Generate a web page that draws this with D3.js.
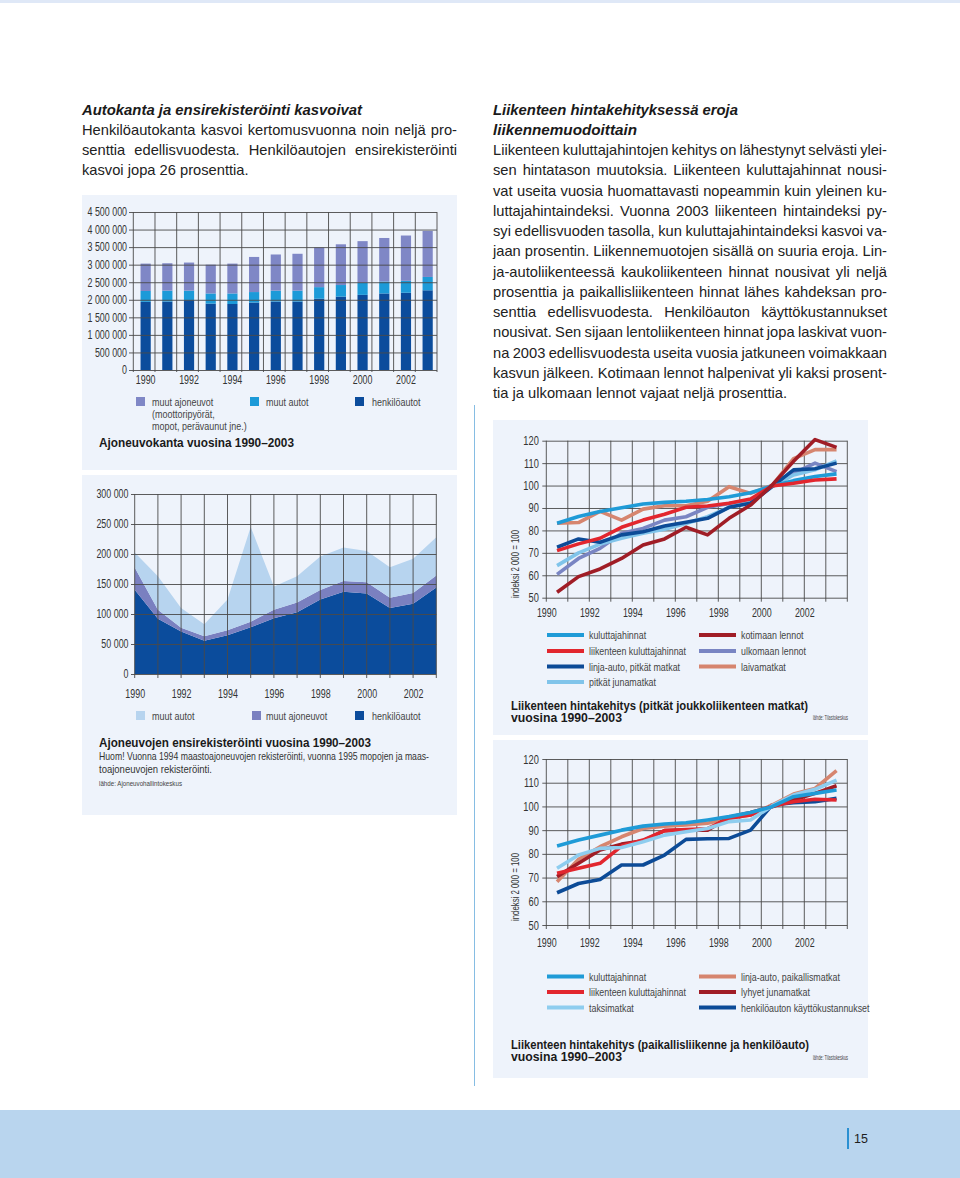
<!DOCTYPE html>
<html><head><meta charset="utf-8">
<script src="https://cdnjs.cloudflare.com/ajax/libs/d3/7.8.5/d3.min.js"></script>
<style>
html,body{margin:0;padding:0;background:#fff;}
svg{display:block;}
text{font-family:"Liberation Sans",Arial,Helvetica,sans-serif;}
</style></head><body>
<svg id="page" width="960" height="1178" xmlns="http://www.w3.org/2000/svg"></svg>
<script>
// ---------------- DATA ----------------
const years = [1990,1991,1992,1993,1994,1995,1996,1997,1998,1999,2000,2001,2002,2003];
const evenYears = [1990,1992,1994,1996,1998,2000,2002];
const yearEdges = [1990,1991,1992,1993,1994,1995,1996,1997,1998,1999,2000,2001,2002,2003,2004];

// Ajoneuvokanta (vehicle stock)
const stockCars          = [1940000,1950000,1990000,1890000,1880000,1920000,1950000,1950000,2030000,2090000,2140000,2180000,2200000,2270000];
const stockOtherCars     = [310000,310000,270000,290000,300000,300000,310000,310000,330000,330000,340000,340000,340000,380000];
const stockOtherVehicles = [780000,780000,800000,820000,850000,1000000,1030000,1050000,1130000,1160000,1190000,1240000,1290000,1310000];
const stockTicks = [0,500000,1000000,1500000,2000000,2500000,3000000,3500000,4000000,4500000];

// Ensirekisteröinti (first registrations)
const regCars          = [140500,92000,71000,55500,64500,78000,93000,103000,124000,137000,134000,110000,117000,144000];
const regOtherVehicles = [37000,15000,6000,7500,8500,9000,14000,16000,16000,18000,19000,17000,18000,20000];
const regOtherCars     = [25000,56000,33000,20000,51000,158000,39000,44000,56000,56000,52000,51000,57000,64000];
const regTicks = [0,50000,100000,150000,200000,250000,300000];

// Hintakehitys, pitkät joukkoliikenteen matkat (index 2000 = 100)
const cpi1            = [83.2,86.2,88.4,90.1,91.8,92.5,93.0,93.8,95.0,96.8,99.8,102.2,104.0,105.2];
const transportCpi1   = [71.0,74.0,76.5,81.4,84.6,87.2,90.3,90.9,92.1,94.0,99.8,101.0,102.5,103.0];
const busLong         = [72.5,76.2,74.7,78.0,79.4,82.0,83.6,85.4,90.3,92.1,99.5,107.0,107.5,110.0];
const trainLong       = [64.3,70.0,73.9,76.5,78.7,80.5,83.1,86.1,90.3,92.8,99.5,104.7,107.0,111.0];
const domesticFlights = [52.4,59.4,62.8,67.5,73.5,76.2,81.4,78.0,85.4,91.3,100.2,110.8,120.5,117.0];
const foreignFlights  = [60.4,67.5,72.0,78.7,80.9,84.6,86.1,90.3,92.0,93.5,100.0,105.4,110.0,106.2];
const shipTrips       = [83.2,83.5,88.5,84.6,89.5,91.0,91.0,93.0,99.5,96.5,100.0,112.0,116.0,116.0];

// Hintakehitys, paikallisliikenne ja henkilöauto
const cpi2          = [83.3,85.8,87.9,90.0,91.7,92.6,93.1,94.3,95.7,97.4,99.9,104.1,105.5,106.9];
const transportCpi2 = [71.8,73.9,76.0,83.3,85.8,89.8,90.3,90.6,95.0,96.4,100.2,102.0,103.0,102.7];
const taxi          = [73.9,79.5,82.3,82.7,85.1,87.9,89.3,90.7,93.6,94.3,100.2,104.8,107.2,111.1];
const busLocal      = [68.2,77.7,83.0,87.2,90.7,91.7,92.2,92.9,95.0,96.4,100.6,105.2,107.6,115.1];
const trainShort    = [70.4,76.0,81.6,84.1,85.5,89.8,90.0,90.0,95.4,97.4,99.9,102.7,105.5,108.7];
const carCosts      = [63.6,67.5,69.2,75.3,75.3,79.5,86.1,86.4,86.5,90.0,100.6,101.6,102.0,103.4];
const indexTicks = [50,60,70,80,90,100,110,120];

// ---------------- HELPERS ----------------
const svg = d3.select('#page');
const fmt = d3.formatLocale({decimal:',', thousands:' ', grouping:[3], currency:['','']}).format(',');
const GRID = '#4a4a4a', TXT = '#333333';

function anchorFix(el, nw) {
  const anchor = getComputedStyle(el).getPropertyValue('text-anchor');
  let x = +(el.getAttribute('x') || 0);
  if (anchor === 'middle') x -= nw / 2; else if (anchor === 'end') x -= nw;
  el.setAttribute('x', x);
  el.setAttribute('text-anchor', 'start');
  el.style.textAnchor = 'start';
  el.setAttribute('textLength', nw);
  el.setAttribute('lengthAdjust', 'spacingAndGlyphs');
}
function fit(sel, w) { sel.each(function(){ anchorFix(this, w); }); return sel; }
function condense() {
  d3.selectAll('text.cond').each(function(){
    const k = +(this.getAttribute('data-k') || 0.76);
    const w = this.getComputedTextLength();
    if (w > 0) anchorFix(this, w * k);
  });
}
function panel(x, y, w, h) {
  svg.append('rect').attr('x', x).attr('y', y).attr('width', w).attr('height', h).attr('fill', '#eef3fb');
}
function para(lines, x0, x1, y0, lh, fs, lastW, forcedK) {
  const g = svg.append('g').attr('font-size', fs).attr('fill', '#222');
  const m = g.append('text').attr('x', -500).attr('y', -500);
  const mw = s => { m.text(s); return m.node().getComputedTextLength(); };
  const sp = mw('a a') - mw('aa');
  const lastWords = lines[lines.length - 1].split(' ');
  const k = forcedK || lastW / (d3.sum(lastWords, mw) + sp * (lastWords.length - 1));
  lines.forEach((line, i) => {
    const words = line.split(' ');
    const ws = words.map(mw);
    const y = y0 + i * lh;
    let kk = k, gap = sp * k;
    if (i < lines.length - 1) {
      const target = x1 - x0;
      gap = (target - d3.sum(ws) * k) / (words.length - 1);
      const minGap = sp * k * 0.75;
      if (gap < minGap) { gap = minGap; kk = (target - minGap * (words.length - 1)) / d3.sum(ws); }
    }
    let x = x0;
    words.forEach((w, j) => {
      g.append('text').attr('x', x).attr('y', y)
        .attr('textLength', ws[j] * kk).attr('lengthAdjust', 'spacingAndGlyphs').text(w);
      x += ws[j] * kk + gap;
    });
  });
  m.remove();
  return k;
}
function label(x, y, s, fs, opts = {}) {
  const t = svg.append('text').attr('x', x).attr('y', y).attr('dy', '0.35em')
    .attr('font-size', fs).attr('fill', opts.fill || TXT).text(s);
  if (opts.bold) t.attr('font-weight', 'bold');
  if (opts.italic) t.attr('font-style', 'italic');
  if (opts.w) fit(t, opts.w); else t.attr('class', 'cond').attr('data-k', opts.k || 0.78);
  return t;
}

// ---------------- PAGE ----------------
svg.append('rect').attr('x', 0).attr('y', 0).attr('width', 960).attr('height', 3).attr('fill', '#dfe8f7');
svg.append('rect').attr('x', 0).attr('y', 1110).attr('width', 960).attr('height', 68).attr('fill', '#b9d5ee');
svg.append('line').attr('x1', 848).attr('x2', 848).attr('y1', 1128).attr('y2', 1149).attr('stroke', '#2a90d2').attr('stroke-width', 2);
svg.append('text').attr('x', 854).attr('y', 1139).attr('dy', '0.35em').attr('font-size', 12.5).attr('fill', '#1e1e1e').text('15');
svg.append('line').attr('x1', 474.5).attr('x2', 474.5).attr('y1', 405).attr('y2', 1086).attr('stroke', '#86bde3').attr('stroke-width', 1);

// text columns
fit(svg.append('text').attr('x', 493).attr('y', 115).attr('font-size', 15).attr('font-weight', 'bold').attr('font-style', 'italic')
  .attr('fill', '#1a1a1a').text('Liikenteen hintakehityksessä eroja'), 245);
fit(svg.append('text').attr('x', 493).attr('y', 135).attr('font-size', 15).attr('font-weight', 'bold').attr('font-style', 'italic')
  .attr('fill', '#1a1a1a').text('liikennemuodoittain'), 144);
const bodyK = para(['Liikenteen kuluttajahintojen kehitys on lähestynyt selvästi ylei-',
      'sen hintatason muutoksia. Liikenteen kuluttajahinnat nousi-',
      'vat useita vuosia huomattavasti nopeammin kuin yleinen ku-',
      'luttajahintaindeksi. Vuonna 2003 liikenteen hintaindeksi py-',
      'syi edellisvuoden tasolla, kun kuluttajahintaindeksi kasvoi va-',
      'jaan prosentin. Liikennemuotojen sisällä on suuria eroja. Lin-',
      'ja-autoliikenteessä kaukoliikenteen hinnat nousivat yli neljä',
      'prosenttia ja paikallisliikenteen hinnat lähes kahdeksan pro-',
      'senttia edellisvuodesta. Henkilöauton käyttökustannukset',
      'nousivat. Sen sijaan lentoliikenteen hinnat jopa laskivat vuon-',
      'na 2003 edellisvuodesta useita vuosia jatkuneen voimakkaan',
      'kasvun jälkeen. Kotimaan lennot halpenivat yli kaksi prosent-',
      'tia ja ulkomaan lennot vajaat neljä prosenttia.'], 493, 887, 155, 20.25, 14.5, 294);

fit(svg.append('text').attr('x', 82).attr('y', 115).attr('font-size', 15).attr('font-weight', 'bold').attr('font-style', 'italic')
  .attr('fill', '#1a1a1a').text('Autokanta ja ensirekisteröinti kasvoivat'), 280);
para(['Henkilöautokanta kasvoi kertomusvuonna noin neljä pro-',
      'senttia edellisvuodesta. Henkilöautojen ensirekisteröinti',
      'kasvoi jopa 26 prosenttia.'], 82, 457, 135, 20, 14.5, 0, bodyK);

panel(82, 195, 375, 275);
panel(82, 475, 375, 340);
panel(493, 420, 375, 315);
panel(493, 740, 375, 338);

// ---------------- CHART 1: Ajoneuvokanta (stacked bars) ----------------
{
  const colors = {cars: '#0b4c9c', otherCars: '#1c9ad8', otherVeh: '#7f87c6'};
  const bx = d3.scaleBand().domain(years).range([133.3, 437]).paddingInner(0.53).paddingOuter(0.265);
  const by = d3.scaleLinear().domain([0, 4500000]).range([370, 212]);
  const rows = years.map((y, i) => ({year: y, cars: stockCars[i], otherCars: stockOtherCars[i], otherVeh: stockOtherVehicles[i]}));
  const series = d3.stack().keys(['cars', 'otherCars', 'otherVeh'])(rows);
  const g = svg.append('g');
  g.selectAll('g.layer').data(series).join('g').attr('fill', d => colors[d.key])
    .selectAll('rect').data(d => d).join('rect')
    .attr('x', d => bx(d.data.year) + 1.5).attr('width', bx.bandwidth())
    .attr('y', d => by(d[1])).attr('height', d => by(d[0]) - by(d[1]));
  const ya = g.append('g').attr('transform', 'translate(129,0)')
    .call(d3.axisLeft(by).tickValues(stockTicks).tickFormat(fmt).tickSize(-(437 - 129)).tickPadding(2));
  ya.select('.domain').remove();
  ya.selectAll('line').attr('stroke', GRID).attr('stroke-width', 0.9);
  ya.selectAll('text').attr('class', 'cond').attr('data-k', 0.74).attr('font-size', 12).attr('fill', TXT);
  const edges = years.map(y => bx(y) - bx.step() * bx.paddingInner() / 2).concat([437]);
  g.selectAll('line.vg').data(edges).join('line').attr('class', 'vg')
    .attr('x1', d => d).attr('x2', d => d).attr('y1', 212).attr('y2', 372)
    .attr('stroke', GRID).attr('stroke-width', 0.9);
  const xa = g.append('g').attr('transform', 'translate(1.5,370)')
    .call(d3.axisBottom(bx).tickValues(evenYears).tickSize(0));
  xa.select('.domain').remove();
  xa.selectAll('text').attr('class', 'cond').attr('data-k', 0.74).attr('font-size', 12).attr('fill', TXT).attr('y', 9.5).attr('dy', '0.35em');
  // legend
  svg.append('rect').attr('x', 136).attr('y', 397).attr('width', 9).attr('height', 9).attr('fill', colors.otherVeh);
  svg.append('rect').attr('x', 250).attr('y', 397).attr('width', 9).attr('height', 9).attr('fill', colors.otherCars);
  svg.append('rect').attr('x', 355).attr('y', 397).attr('width', 9).attr('height', 9).attr('fill', colors.cars);
  label(152, 401.5, 'muut ajoneuvot', 11.5, {fill: '#444'});
  label(152, 413.5, '(moottoripyörät,', 11.5, {fill: '#444'});
  label(152, 425.5, 'mopot, perävaunut jne.)', 11.5, {fill: '#444'});
  label(266, 401.5, 'muut autot', 11.5, {fill: '#444'});
  label(372, 401.5, 'henkilöautot', 11.5, {fill: '#444'});
  label(99, 442, 'Ajoneuvokanta vuosina 1990–2003', 13, {bold: true, fill: '#1a1a1a', w: 195});
}

// ---------------- CHART 2: Ensirekisteröinti (stacked areas) ----------------
{
  const colors = {cars: '#0b4c9c', otherVeh: '#7a80c0', otherCars: '#b7d4ef'};
  const ax = d3.scaleLinear().domain([1990, 2003]).range([134.7, 436.3]);
  const ay = d3.scaleLinear().domain([0, 300000]).range([674, 494]);
  const rows = years.map((y, i) => ({year: y, cars: regCars[i], otherVeh: regOtherVehicles[i], otherCars: regOtherCars[i]}));
  const series = d3.stack().keys(['cars', 'otherVeh', 'otherCars'])(rows);
  const area = d3.area().x(d => ax(d.data.year)).y0(d => ay(d[0])).y1(d => ay(d[1]));
  const g = svg.append('g');
  g.selectAll('path.ar').data(series).join('path').attr('class', 'ar')
    .attr('fill', d => colors[d.key]).attr('d', area);
  const ya = g.append('g').attr('transform', 'translate(131,0)')
    .call(d3.axisLeft(ay).tickValues(regTicks).tickFormat(fmt).tickSize(-(436.3 - 131)).tickPadding(2.5));
  ya.select('.domain').remove();
  ya.selectAll('line').attr('stroke', GRID).attr('stroke-width', 0.9);
  ya.selectAll('text').attr('class', 'cond').attr('data-k', 0.74).attr('font-size', 12).attr('fill', TXT);
  g.selectAll('line.vg').data(years).join('line').attr('class', 'vg')
    .attr('x1', d => ax(d)).attr('x2', d => ax(d)).attr('y1', 494).attr('y2', 678)
    .attr('stroke', GRID).attr('stroke-width', 0.9);
  const xa = g.append('g').attr('transform', 'translate(0,674)')
    .call(d3.axisBottom(ax).tickValues(evenYears).tickFormat(d3.format('d')).tickSize(0));
  xa.select('.domain').remove();
  xa.selectAll('text').attr('class', 'cond').attr('data-k', 0.74).attr('font-size', 12).attr('fill', TXT).attr('y', 20).attr('dy', '0.35em');
  svg.append('rect').attr('x', 136).attr('y', 711).attr('width', 9).attr('height', 9).attr('fill', colors.otherCars);
  svg.append('rect').attr('x', 252).attr('y', 711).attr('width', 9).attr('height', 9).attr('fill', colors.otherVeh);
  svg.append('rect').attr('x', 355).attr('y', 711).attr('width', 9).attr('height', 9).attr('fill', colors.cars);
  label(152, 715.5, 'muut autot', 11.5, {fill: '#444'});
  label(266, 715.5, 'muut ajoneuvot', 11.5, {fill: '#444'});
  label(372, 715.5, 'henkilöautot', 11.5, {fill: '#444'});
  label(99, 742, 'Ajoneuvojen ensirekisteröinti vuosina 1990–2003', 13, {bold: true, fill: '#1a1a1a', w: 272});
  label(99, 756.5, 'Huom! Vuonna 1994 maastoajoneuvojen rekisteröinti, vuonna 1995 mopojen ja maas-', 10.5, {fill: '#333', w: 330});
  label(99, 769, 'toajoneuvojen rekisteröinti.', 10.5, {fill: '#333', w: 113});
  label(99, 783, 'lähde: Ajoneuvohallintokeskus', 7.5, {fill: '#444', w: 83});
}

// ---------------- CHARTS 3 & 4: price index lines ----------------
function lineChart(o) {
  const x = d3.scaleLinear().domain([1990, 2004]).range([546.3, 847.3]);
  const y = d3.scaleLinear().domain([50, 120]).range([o.bottom, o.top]);
  const g = svg.append('g');
  const ya = g.append('g').attr('transform', 'translate(542.3,0)')
    .call(d3.axisLeft(y).tickValues(indexTicks).tickSize(-(847.3 - 542.3)).tickPadding(3.5));
  ya.select('.domain').remove();
  ya.selectAll('line').attr('stroke', GRID).attr('stroke-width', 0.9);
  ya.selectAll('text').attr('class', 'cond').attr('data-k', 0.74).attr('font-size', 12.5).attr('fill', TXT);
  g.selectAll('line.vg').data(yearEdges).join('line').attr('class', 'vg')
    .attr('x1', d => x(d)).attr('x2', d => x(d)).attr('y1', o.top).attr('y2', o.bottom + 4)
    .attr('stroke', GRID).attr('stroke-width', 0.9);
  const xa = g.append('g').attr('transform', `translate(0,${o.bottom})`)
    .call(d3.axisBottom(x).tickValues(evenYears).tickFormat(d3.format('d')).tickSize(0));
  xa.select('.domain').remove();
  xa.selectAll('text').attr('class', 'cond').attr('data-k', 0.74).attr('font-size', 12).attr('fill', TXT).attr('y', o.labelGap).attr('dy', '0.35em');
  const line = d3.line().x((d, i) => x(years[i] + 0.5)).y(d => y(d)).curve(d3.curveLinear);
  o.draw.forEach(s => {
    g.append('path').attr('d', line(s.values)).attr('fill', 'none').attr('stroke', s.color)
      .attr('stroke-width', 3.6).attr('stroke-linejoin', 'round').attr('stroke-linecap', 'butt');
  });
  // axis title
  const t = svg.append('text').attr('x', 515).attr('y', o.axisTitleY).attr('dy', '0.35em')
    .attr('font-size', 11).attr('fill', TXT).attr('text-anchor', 'middle')
    .attr('transform', `rotate(-90,515,${o.axisTitleY})`).text('indeksi 2 000 = 100');
  fit(t, 68);
  // legend
  o.legend.forEach(item => {
    const cx = item.col === 0 ? 547 : 699;
    svg.append('line').attr('x1', cx).attr('x2', cx + 37).attr('y1', item.y).attr('y2', item.y)
      .attr('stroke', item.color).attr('stroke-width', 4);
    label(cx + 42, item.y, item.name, 11.5, {fill: '#444', k: 0.77});
  });
  label(511, o.titleY, o.title, 12, {bold: true, fill: '#1a1a1a', w: o.titleW});
  label(511, o.titleY + 12, 'vuosina 1990–2003', 12, {bold: true, fill: '#1a1a1a', w: 111});
  label(813, o.titleY + 12, 'lähde: Tilastokeskus', 7.5, {fill: '#444', w: 35});
}

const C = {cpi: '#1f9bd7', trans: '#e2262e', navy: '#0c4b97', sky: '#80c4ea', wine: '#a01d26', lav: '#7985c3', salmon: '#d6856f', taxi: '#8ecdef'};

lineChart({
  top: 440.7, bottom: 597.7, labelGap: 15.5, axisTitleY: 564, titleY: 705.5, titleW: 297,
  title: 'Liikenteen hintakehitys (pitkät joukkoliikenteen matkat)',
  draw: [
    {values: shipTrips, color: C.salmon},
    {values: foreignFlights, color: C.lav},
    {values: trainLong, color: C.sky},
    {values: busLong, color: C.navy},
    {values: cpi1, color: C.cpi},
    {values: transportCpi1, color: C.trans},
    {values: domesticFlights, color: C.wine}
  ],
  legend: [
    {col: 0, y: 635, name: 'kuluttajahinnat', color: C.cpi},
    {col: 0, y: 651, name: 'liikenteen kuluttajahinnat', color: C.trans},
    {col: 0, y: 666.5, name: 'linja-auto, pitkät matkat', color: C.navy},
    {col: 0, y: 682, name: 'pitkät junamatkat', color: C.sky},
    {col: 1, y: 635, name: 'kotimaan lennot', color: C.wine},
    {col: 1, y: 651, name: 'ulkomaan lennot', color: C.lav},
    {col: 1, y: 666.5, name: 'laivamatkat', color: C.salmon}
  ]
});

lineChart({
  top: 759, bottom: 925, labelGap: 17.5, axisTitleY: 887, titleY: 1045, titleW: 298,
  title: 'Liikenteen hintakehitys (paikallisliikenne ja henkilöauto)',
  draw: [
    {values: carCosts, color: C.navy},
    {values: busLocal, color: C.salmon},
    {values: trainShort, color: C.wine},
    {values: transportCpi2, color: C.trans},
    {values: taxi, color: C.taxi},
    {values: cpi2, color: C.cpi}
  ],
  legend: [
    {col: 0, y: 976.5, name: 'kuluttajahinnat', color: C.cpi},
    {col: 0, y: 992, name: 'liikenteen kuluttajahinnat', color: C.trans},
    {col: 0, y: 1007.5, name: 'taksimatkat', color: C.taxi},
    {col: 1, y: 976.5, name: 'linja-auto, paikallismatkat', color: C.salmon},
    {col: 1, y: 992, name: 'lyhyet junamatkat', color: C.wine},
    {col: 1, y: 1007.5, name: 'henkilöauton käyttökustannukset', color: C.navy}
  ]
});

condense();
</script></body></html>
